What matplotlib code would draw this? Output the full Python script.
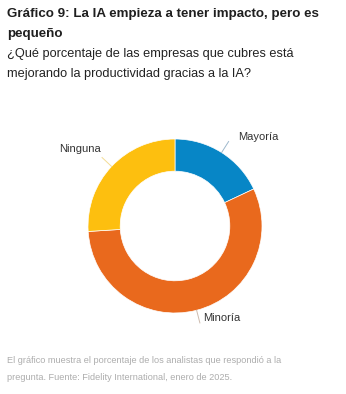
import numpy as np
import matplotlib
matplotlib.use("Agg")
import matplotlib.pyplot as plt

# Survey shares (%), drawn clockwise from 12 o'clock
categories = ["Mayoría", "Minoría", "Ninguna"]
values = [18, 56, 26]
colors = ["#0786C6", "#E9691D", "#FDBF0F"]
leader_colors = ["#9DB8CC", "#CDBBAE", "#F3DC94"]

title_lines = ["Gráfico 9: La IA empieza a tener impacto, pero es", "pequeño"]
subtitle_lines = ["¿Qué porcentaje de las empresas que cubres está",
                  "mejorando la productividad gracias a la IA?"]
footer_lines = ["El gráfico muestra el porcentaje de los analistas que respondió a la",
                "pregunta. Fuente: Fidelity International, enero de 2025."]

W, H = 346, 394
fig = plt.figure(figsize=(W / 100, H / 100), dpi=100)
fig.patch.set_facecolor("white")
font = "Liberation Sans"

def ytop(px):
    return 1 - px / H

# Header text
fig.text(7 / W, ytop(17.5), title_lines[0], fontsize=9.6, fontweight="bold",
         family=font, color="#1f1f1f", va="baseline")
fig.text(7 / W, ytop(37.5), title_lines[1], fontsize=9.6, fontweight="bold",
         family=font, color="#1f1f1f", va="baseline")
fig.text(7 / W, ytop(57), subtitle_lines[0], fontsize=9.15,
         family=font, color="#222222", va="baseline")
fig.text(7 / W, ytop(77), subtitle_lines[1], fontsize=9.15,
         family=font, color="#222222", va="baseline")

# Footer text
fig.text(7 / W, ytop(363), footer_lines[0], fontsize=6.6,
         family=font, color="#ADADAD", va="baseline")
fig.text(7 / W, ytop(380), footer_lines[1], fontsize=6.6,
         family=font, color="#ADADAD", va="baseline")

# Donut axes: centre (175, 226) px, radius 87 px
cx, cy, r = 175, 226, 87
ax = fig.add_axes([(cx - r) / W, (H - cy - r) / H, 2 * r / W, 2 * r / H])
wedges, _ = ax.pie(values, colors=colors, startangle=90, counterclock=False,
                   radius=1.0, wedgeprops=dict(width=0.37, edgecolor="white",
                                               linewidth=0.5))
ax.set_xlim(-1, 1)
ax.set_ylim(-1, 1)
ax.set_aspect("equal")
ax.axis("off")

# Label offsets from the end of each leader line (axes data units)
label_offsets = {"Mayoría": (0.11, 0.055), "Minoría": (0.035, 0.06),
                 "Ninguna": (0.01, 0.10)}

# Outside labels with short radial leader lines
for w, name, lc in zip(wedges, categories, leader_colors):
    ang = np.deg2rad((w.theta1 + w.theta2) / 2)
    x0, y0 = np.cos(ang), np.sin(ang)
    x1, y1 = 1.15 * x0, 1.15 * y0
    ax.plot([x0, x1], [y0, y1], color=lc, lw=0.7, clip_on=False)
    dx, dy = label_offsets[name]
    ha = "left" if x0 >= 0 else "right"
    tx = x1 + (dx if x0 >= 0 else -dx)
    ty = y1 + dy
    ax.text(tx, ty, name, ha=ha, va="center", fontsize=8, family=font,
            color="#333333", clip_on=False)

fig.savefig("out.png", dpi=100, facecolor="white")
